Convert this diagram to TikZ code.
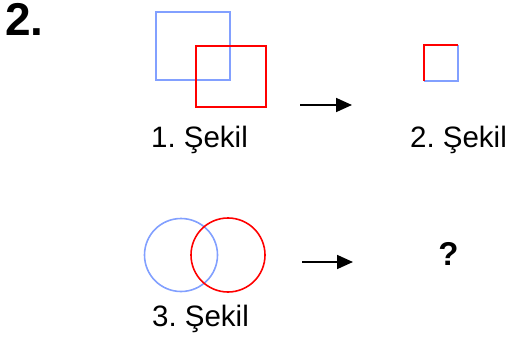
\documentclass[tikz,border=0pt]{standalone}
\usepackage{fontspec}
\setmainfont{Liberation Sans}
\usetikzlibrary{arrows.meta}
\definecolor{lblue}{RGB}{130,160,255}
\definecolor{myred}{RGB}{255,0,0}
\tikzset{
  bl/.style={draw=lblue, line width=1.6pt},
  rd/.style={draw=myred, line width=1.6pt},
  lbl/.style={font=\fontsize{29.5}{34}\selectfont, inner sep=0pt, anchor=base},
  arr/.style={line width=1.8pt, -{Triangle[length=16pt,width=14pt]}},
}
\frenchspacing
\begin{document}
\begin{tikzpicture}[x=1pt,y=-1pt]
\useasboundingbox (0,0) rectangle (514,342);
\node[font=\fontsize{46}{50}\selectfont\bfseries, inner sep=0pt, anchor=base west] (num) at (5,36) {2.};
% figure 1
\draw[bl] (156,12) rectangle (230,80);
\draw[rd] (196,46) rectangle (266,107);
\node[lbl] (l1) at (199.5,148) {1. Şekil};
% arrow 1
\coordinate (a1s) at (300,105);
\coordinate (a1e) at (352,105);
\draw[arr] (a1s) -- (a1e);
% figure 2
\draw[bl] (424,81) -- (458,81) -- (458,45);
\draw[rd] (458,45) -- (424,45) -- (424,81);
\node[lbl] (l2) at (458.5,148) {2. Şekil};
% figure 3
\draw[bl] (181,255) circle (36.5);
\draw[rd] (228,255) circle (37);
\node[lbl] (l3) at (200.5,326) {3. Şekil};
% arrow 2
\coordinate (a2s) at (302,262);
\coordinate (a2e) at (353,262);
\draw[arr] (a2s) -- (a2e);
\node[font=\fontsize{33}{36}\selectfont\bfseries, inner sep=0pt, anchor=base] (q) at (448.5,265) {?};
\end{tikzpicture}
\end{document}
